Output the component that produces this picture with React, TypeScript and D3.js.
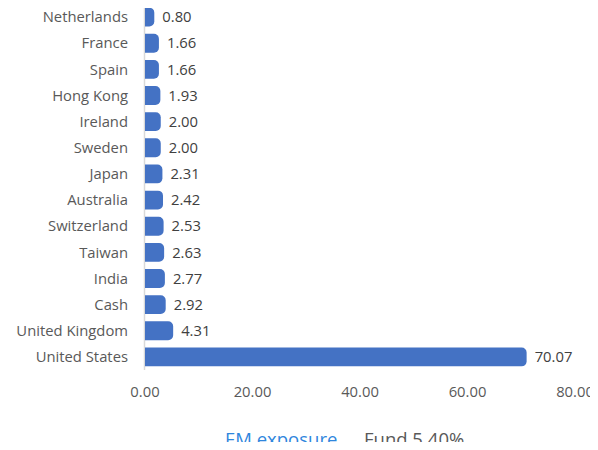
import React, { useEffect, useRef } from "react";
import * as d3 from "d3";

const countries = [
  "Netherlands", "France", "Spain", "Hong Kong", "Ireland", "Sweden", "Japan",
  "Australia", "Switzerland", "Taiwan", "India", "Cash", "United Kingdom", "United States",
];
const weights = [0.8, 1.66, 1.66, 1.93, 2.0, 2.0, 2.31, 2.42, 2.53, 2.63, 2.77, 2.92, 4.31, 70.07];
const xTicks = [0, 20, 40, 60, 80];
const legendLabel = "EM exposure";
const legendValue = "Fund 5.40%";

const App = () => {
  const ref = useRef(null);

  useEffect(() => {
    const container = ref.current;
    if (!container) return;
    d3.select(container).select("svg").remove();

    const width = 598;
    const height = 450;
    const font = "'Open Sans', sans-serif";
    const grey = "#595959";
    const fs = 14.8;

    const svg = d3.select(container)
      .append("svg")
      .attr("width", width)
      .attr("height", height)
      .style("display", "block");

    const x = d3.scaleLinear().domain([0, 80]).range([145, 575]);
    const y = d3.scaleBand().domain(countries).range([4, 370]).paddingInner(0.28).paddingOuter(0.14);

    // axis line
    svg.append("line")
      .attr("x1", 144.5).attr("x2", 144.5)
      .attr("y1", 4).attr("y2", 370)
      .attr("stroke", "#d9d9d9")
      .attr("stroke-width", 1.5);

    const r = 5;
    const bh = y.bandwidth();
    svg.selectAll(".bar")
      .data(countries)
      .enter()
      .append("path")
      .attr("class", "bar")
      .attr("fill", "#4472c4")
      .attr("d", (c, i) => {
        const x0 = x(0);
        const x1 = x(weights[i]) + r;
        const y0 = y(c);
        const y1 = y0 + bh;
        return `M${x0},${y0}H${x1 - r}A${r},${r} 0 0 1 ${x1},${y0 + r}V${y1 - r}A${r},${r} 0 0 1 ${x1 - r},${y1}H${x0}Z`;
      });

    // category labels
    svg.selectAll(".cat")
      .data(countries)
      .enter()
      .append("text")
      .attr("x", 128)
      .attr("y", c => y(c) + bh / 2)
      .attr("dy", "0.35em")
      .attr("text-anchor", "end")
      .attr("font-family", font)
      .attr("font-size", fs)
      .attr("fill", grey)
      .text(c => c);

    // value labels
    svg.selectAll(".val")
      .data(countries)
      .enter()
      .append("text")
      .attr("x", (c, i) => x(weights[i]) + r + 8)
      .attr("y", c => y(c) + bh / 2)
      .attr("dy", "0.35em")
      .attr("font-family", font)
      .attr("font-size", fs)
      .attr("fill", "#404040")
      .text((c, i) => weights[i].toFixed(2));

    // x tick labels
    svg.selectAll(".tick")
      .data(xTicks)
      .enter()
      .append("text")
      .attr("x", d => x(d))
      .attr("y", 392)
      .attr("dy", "0.35em")
      .attr("text-anchor", "middle")
      .attr("font-family", font)
      .attr("font-size", fs)
      .attr("fill", grey)
      .text(d => d.toFixed(2));

    // legend text
    svg.append("text")
      .attr("x", 225)
      .attr("y", 446)
      .attr("font-family", font)
      .attr("font-size", 18.5)
      .attr("fill", "#2f86dd")
      .text(legendLabel);
    svg.append("text")
      .attr("x", 364)
      .attr("y", 446)
      .attr("font-family", font)
      .attr("font-size", 18.5)
      .attr("fill", grey)
      .text(legendValue);
  }, []);

  return <div ref={ref} style={{ margin: -8 }}></div>;
};

export default App;
